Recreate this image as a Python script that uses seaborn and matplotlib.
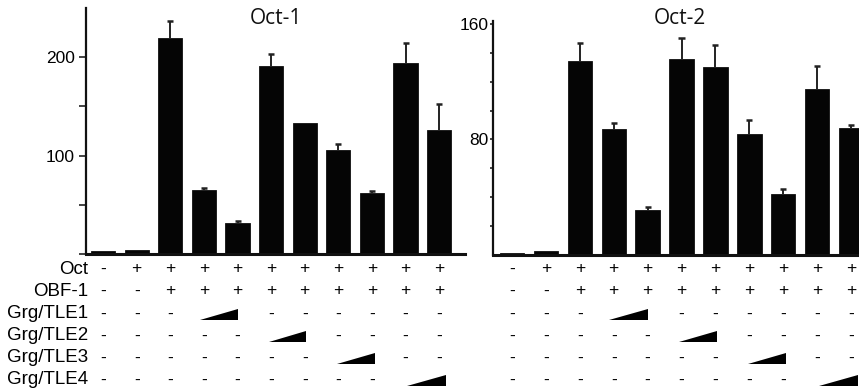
import matplotlib
matplotlib.use("Agg")
import matplotlib.pyplot as plt
import matplotlib.transforms as mtransforms
from matplotlib.patches import Polygon
import numpy as np
import pandas as pd
import seaborn as sns

# ---- data -------------------------------------------------------------
lanes = [str(i) for i in range(1, 12)]

oct1_values = [3, 4, 220, 65, 32, 191, 133, 106, 61.6, 193.6, 126]
oct1_errors = [0, 0, 17, 2.3, 2, 12.6, 0, 6, 2.7, 21, 26]

oct2_values = [1.2, 3, 134.2, 87.1, 31.1, 136, 130.3, 84.1, 42, 114.6, 87.6]
oct2_errors = [0, 0, 12.7, 4.6, 2, 14.5, 15.4, 9.3, 3.5, 16.4, 2.3]

row_labels = ["Oct", "OBF-1", "Grg/TLE1", "Grg/TLE2", "Grg/TLE3", "Grg/TLE4"]
oct_row = ["-", "+", "+", "+", "+", "+", "+", "+", "+", "+", "+"]
obf_row = ["-", "-", "+", "+", "+", "+", "+", "+", "+", "+", "+"]
# lanes receiving increasing amounts of each Grg/TLE (drawn as a ramp)
tle_ramp_lanes = [(3, 4), (5, 6), (7, 8), (9, 10)]

oct1_yticks = [0, 50, 100, 150, 200]
oct1_ylabels = ["", "", "100", "", "200"]
oct2_yticks = [20, 40, 60, 80, 100, 120, 140, 160]
oct2_ylabels = ["", "", "", "80", "", "", "", "160"]

# ---- layout -----------------------------------------------------------
W, H = 859, 391
ROW_Y = [269, 291, 314, 336, 358, 380]          # pixel rows of the table
RAMP_SPAN = [(2.87, 4.0), (4.93, 6.05), (6.95, 8.08), (9.04, 10.2)]
RAMP_HALF = 5.5

sns.set_theme(style="white")
plt.rcParams["font.family"] = ["Liberation Sans", "DejaVu Sans"]

fig = plt.figure(figsize=(W / 100, H / 100), dpi=100)


def rect(left, top, right, bottom):
    return [left / W, 1 - bottom / H, (right - left) / W, (bottom - top) / H]


ax1 = fig.add_axes(rect(86, 8, 465, 254))
ax2 = fig.add_axes(rect(493, 21, 867, 255))


def draw_panel(ax, values, errors, title, ylim, xlim, yticks, ylabels,
               tick_len, tick_pad):
    df = pd.DataFrame({"lane": lanes, "value": values})
    sns.barplot(data=df, x="lane", y="value", color="#050505",
                saturation=1, width=0.72, errorbar=None, ax=ax,
                edgecolor="#101010", linewidth=0.6, zorder=2)
    # upper-only error bars: stem from the bar top plus a short cap
    vals = np.asarray(values, dtype=float)
    err = np.asarray(errors, dtype=float)
    pos = np.arange(len(vals))
    keep = err > 0
    ax.vlines(pos[keep], vals[keep], vals[keep] + err[keep],
              color="#222222", linewidth=1.4, zorder=1)
    ax.hlines(vals[keep] + err[keep], pos[keep] - 0.09, pos[keep] + 0.09,
              color="#222222", linewidth=1.8, zorder=1)
    ax.set_xlim(*xlim)
    ax.set_ylim(*ylim)
    ax.set_xticks([])
    ax.set_yticks(yticks)
    ax.set_yticklabels(ylabels, fontsize=12.5, color="black")
    ax.tick_params(axis="y", left=True, length=tick_len, width=1.2,
                   pad=tick_pad, color="#222222", direction="out")
    ax.set_xlabel("")
    ax.set_ylabel("")
    for side in ("top", "right"):
        ax.spines[side].set_visible(False)
    ax.spines["left"].set_linewidth(1.6)
    ax.spines["left"].set_color("#111111")
    ax.spines["bottom"].set_linewidth(2.2)
    ax.spines["bottom"].set_color("#111111")
    ax.set_facecolor("white")
    tr = mtransforms.blended_transform_factory(ax.transAxes, fig.transFigure)
    ax.text(0.5, 1 - 18 / H, title, transform=tr, ha="center", va="center",
            fontsize=15, family=["Open Sans", "DejaVu Sans"], color="#111111")


draw_panel(ax1, oct1_values, oct1_errors, "Oct-1", (0, 250), (-0.51, 10.77),
           oct1_yticks, oct1_ylabels, 5, 3)
draw_panel(ax2, oct2_values, oct2_errors, "Oct-2", (0, 162), (-0.56, 10.47),
           oct2_yticks, oct2_ylabels, 2, 1)


def draw_table(ax):
    tr = mtransforms.blended_transform_factory(ax.transData, fig.transFigure)
    rows = [oct_row, obf_row]
    for k in range(4):
        r = ["-"] * len(lanes)
        a, b = tle_ramp_lanes[k]
        r[a] = r[b] = ""
        rows.append(r)
    for y_px, row in zip(ROW_Y, rows):
        for i, sym in enumerate(row):
            if sym:
                ax.text(i, 1 - y_px / H, sym, transform=tr, ha="center",
                        va="center", fontsize=12.5, color="black",
                        clip_on=False)
    for k, (x0, x1) in enumerate(RAMP_SPAN):
        y = ROW_Y[2 + k]
        yb = 1 - (y + RAMP_HALF) / H
        yt = 1 - (y - RAMP_HALF) / H
        tri = Polygon([(x0, yb), (x1, yb), (x1, yt)], closed=True,
                      transform=tr, facecolor="black", edgecolor="none",
                      clip_on=False)
        ax.add_patch(tri)


draw_table(ax1)
draw_table(ax2)

for y_px, label in zip(ROW_Y, row_labels):
    fig.text(88 / W, 1 - y_px / H, label, ha="right", va="center",
             fontsize=13.5, color="black")

fig.savefig("out.png", dpi=100, facecolor="white")
